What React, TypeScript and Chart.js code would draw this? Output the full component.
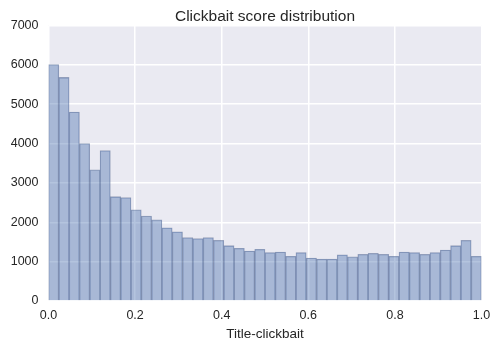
import React, { useEffect, useRef } from "react";
import { Chart, registerables } from "chart.js";

Chart.register(...registerables);

const chartTitle = "Clickbait score distribution";
const xAxisLabel = "Title-clickbait";
const binStart = 0;
const binEnd = 1;
const binCounts = [
  6010, 5680, 4800, 4000, 3330, 3820, 2650, 2625, 2315, 2155,
  2060, 1860, 1760, 1610, 1585, 1610, 1540, 1405, 1340, 1270,
  1315, 1230, 1245, 1135, 1230, 1090, 1065, 1065, 1175, 1120,
  1185, 1210, 1185, 1135, 1245, 1230, 1185, 1230, 1295, 1405,
  1540, 1135,
];
const yMin = 0;
const yMax = 7000;
const yStep = 1000;
const xStep = 0.2;

const FONT = "'Liberation Sans', Arial, 'DejaVu Sans', sans-serif";
const TEXT = "#262626";
const TITLE_SIZE = 15.5;

const bgPlugin = {
  id: "plotBg",
  beforeDraw(chart: any) {
    const { ctx, chartArea } = chart;
    if (!chartArea) return;
    ctx.save();
    ctx.fillStyle = "#EAEAF2";
    ctx.fillRect(chartArea.left, chartArea.top, chartArea.right - chartArea.left, chartArea.bottom - chartArea.top);
    ctx.restore();
  },
};

// Title centred over the plot area (as matplotlib does)
const plotTitlePlugin = {
  id: "plotTitle",
  afterDraw(chart: any) {
    const { ctx, chartArea } = chart;
    if (!chartArea) return;
    ctx.save();
    ctx.fillStyle = TEXT;
    ctx.font = `${TITLE_SIZE}px ${FONT}`;
    ctx.textAlign = "center";
    ctx.textBaseline = "alphabetic";
    ctx.fillText(chartTitle, (chartArea.left + chartArea.right) / 2, chartArea.top - 5);
    ctx.restore();
  },
};

export default function App() {
  const ref = useRef<HTMLCanvasElement | null>(null);
  useEffect(() => {
    document.body.style.margin = "0";
    const binWidth = (binEnd - binStart) / binCounts.length;
    const points = binCounts.map((c, i) => ({ x: binStart + (i + 0.5) * binWidth, y: c }));
    const chart = new Chart(ref.current as HTMLCanvasElement, {
      type: "bar",
      data: {
        datasets: [
          {
            data: points as any,
            backgroundColor: "rgba(76,114,176,0.42)",
            borderColor: "rgba(60,80,125,0.45)",
            borderWidth: 0.6,
            barPercentage: 1,
            categoryPercentage: 1,
          },
        ],
      },
      options: {
        animation: false,
        responsive: false,
        layout: { padding: { left: 0, right: 18.5, top: 25.5, bottom: 0 } },
        plugins: {
          legend: { display: false },
          tooltip: { enabled: false },
          title: { display: false },
        },
        scales: {
          x: {
            type: "linear",
            min: binStart,
            max: binEnd,
            offset: false,
            afterFit(scale: any) {
              scale.height = 49;
            },
            grid: { color: "#FFFFFF", lineWidth: 1.5, drawTicks: false, offset: false },
            border: { display: false },
            ticks: {
              stepSize: xStep,
              padding: 7,
              color: TEXT,
              font: { family: FONT, size: 12.5 },
              callback: (v: any) => Number(v).toFixed(1),
            },
            title: {
              display: true,
              text: xAxisLabel,
              color: TEXT,
              font: { family: FONT, size: 13.5 },
              padding: { top: 0, bottom: 8 },
            },
          },
          y: {
            min: yMin,
            max: yMax,
            afterFit(scale: any) {
              scale.width = 48.5;
            },
            grid: { color: "#FFFFFF", lineWidth: 1.5, drawTicks: false },
            border: { display: false },
            ticks: {
              stepSize: yStep,
              padding: 10,
              color: TEXT,
              font: { family: FONT, size: 12.5 },
              callback: (v: any) => String(Math.round(Number(v))),
            },
          },
        },
      },
      plugins: [bgPlugin, plotTitlePlugin],
    });
    return () => chart.destroy();
  }, []);
  return (
    <div style={{ position: "absolute", left: 0, top: 0, width: 500, height: 350 }}>
      <canvas ref={ref} width={500} height={350} />
    </div>
  );
}
